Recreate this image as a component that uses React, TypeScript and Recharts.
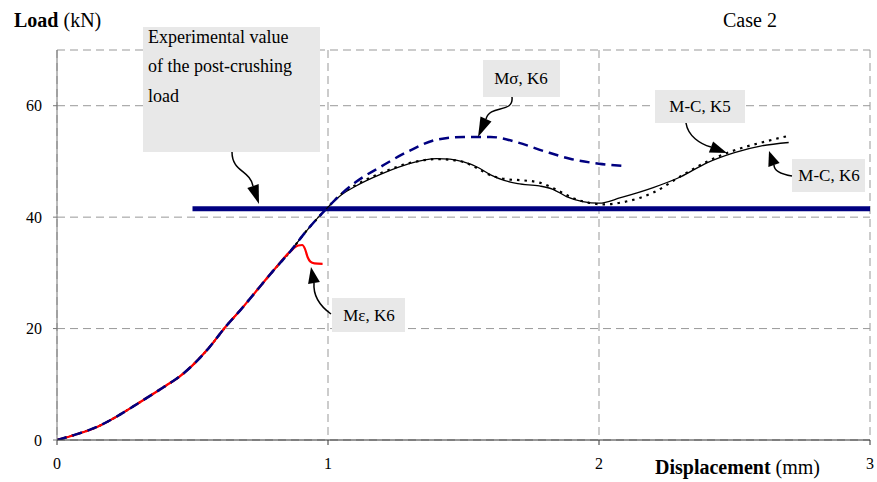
import React from 'react'
import { LineChart, Line, XAxis, YAxis, CartesianGrid } from 'recharts'

const W = 877
const H = 482
const FONT = '"Liberation Serif", "Times New Roman", serif'

const xTicks = [0, 1, 2, 3]
const yTicks = [0, 20, 40, 60]

// rising part, all models sit on top of each other here
const riseDisp = [0, 0.07, 0.15, 0.22, 0.3, 0.4, 0.45, 0.5, 0.56, 0.62, 0.68, 0.74, 0.8, 0.86]
const riseLoad = [0, 1, 2.4, 4.2, 6.6, 9.7, 11.3, 13.4, 16.5, 20.2, 23.5, 27, 30.5, 33.8]

// M-sigma, K6
const sigmaDisp = [0.92, 1.0, 1.05, 1.1, 1.2, 1.3, 1.4, 1.5, 1.6, 1.7, 1.8, 1.9, 2.0, 2.09]
const sigmaLoad = [37.5, 41.8, 44.2, 46.2, 49.2, 51.9, 53.9, 54.4, 54.4, 53.4, 51.8, 50.4, 49.6, 49.2]

// M-epsilon, K6
const epsDisp = [0.89, 0.905, 0.915, 0.925, 0.935, 0.95, 0.98]
const epsLoad = [34.9, 35, 34.3, 32.8, 32, 31.7, 31.6]

// M-C, K6 (solid)
const k6Disp = [0.92, 1.0, 1.05, 1.1, 1.2, 1.3, 1.4, 1.45, 1.5, 1.55, 1.6, 1.65, 1.7, 1.78, 1.83, 1.88, 1.94, 2.0, 2.08, 2.2, 2.3, 2.4, 2.5, 2.6, 2.7]
const k6Load = [37.5, 41.8, 44, 45.5, 47.8, 49.6, 50.5, 50.4, 49.9, 49, 47.6, 46.6, 46, 45.6, 45, 43.7, 42.8, 42.5, 43.5, 45.3, 47.2, 49.8, 51.6, 52.8, 53.4]

// M-C, K5 (dotted)
const k5Disp = [0.92, 1.0, 1.05, 1.1, 1.2, 1.3, 1.4, 1.45, 1.5, 1.55, 1.6, 1.66, 1.72, 1.78, 1.84, 1.9, 1.96, 2.02, 2.1, 2.2, 2.3, 2.4, 2.5, 2.6, 2.7]
const k5Load = [37.5, 41.8, 44.2, 45.7, 48, 49.7, 50.4, 50.3, 49.9, 48.8, 47.5, 46.8, 46.6, 46.2, 45, 43.5, 42.6, 42.3, 42.8, 44.4, 47.3, 50, 52, 53.4, 54.6]

// experimental post-crushing load
const expDisp = [0.5, 3]
const expLoad = [41.5, 41.5]

const toPoints = (xs: number[], ys: number[]) => xs.map((x, i) => ({ x, y: ys[i] }))

const sigmaData = toPoints([...riseDisp, ...sigmaDisp], [...riseLoad, ...sigmaLoad])
const epsData = toPoints([...riseDisp, ...epsDisp], [...riseLoad, ...epsLoad])
const k6Data = toPoints([...riseDisp, ...k6Disp], [...riseLoad, ...k6Load])
const k5Data = toPoints([...riseDisp, ...k5Disp], [...riseLoad, ...k5Load])
const expData = toPoints(expDisp, expLoad)

type Pt = [number, number]

const Arrow = ({ d, from, tip }: { d: string; from: Pt; tip: Pt }) => {
  const dx = tip[0] - from[0]
  const dy = tip[1] - from[1]
  const len = Math.hypot(dx, dy) || 1
  const ux = dx / len
  const uy = dy / len
  const hw = 6
  const bx = tip[0] - ux * Math.max(len, 14)
  const by = tip[1] - uy * Math.max(len, 14)
  const pts = [
    `${tip[0]},${tip[1]}`,
    `${bx - uy * hw},${by + ux * hw}`,
    `${bx + uy * hw},${by - ux * hw}`,
  ].join(' ')
  return (
    <g>
      <path d={d} fill="none" stroke="#000" strokeWidth={1.5} />
      <polygon points={pts} fill="#000" />
    </g>
  )
}

const Box = ({ x, y, w, h }: { x: number; y: number; w: number; h: number }) => (
  <rect x={x} y={y} width={w} height={h} fill="#e8e8e8" />
)

const tickStyle = { fill: '#000', fontSize: 16, fontFamily: FONT, style: { fontFamily: FONT } }

export default function App() {
  return (
    <div style={{ position: 'absolute', left: 0, top: 0, width: W, height: H, background: '#fff', fontFamily: FONT }}>
      <LineChart width={W} height={H} margin={{ top: 50, right: 7, bottom: 0, left: 0 }}>
        <CartesianGrid stroke="#999" strokeDasharray="8 5" />
        <XAxis
          type="number"
          dataKey="x"
          domain={[0, 3]}
          ticks={xTicks}
          allowDataOverflow
          height={42}
          tickSize={5}
          tickMargin={13}
          stroke="#333"
          tick={tickStyle}
        />
        <YAxis
          type="number"
          dataKey="y"
          domain={[0, 70]}
          ticks={yTicks}
          allowDataOverflow
          width={57}
          tickSize={4}
          tickMargin={11}
          stroke="#777"
          tick={tickStyle}
        />
        <Line data={expData} dataKey="y" type="linear" stroke="#000080" strokeWidth={5} dot={false} isAnimationActive={false} />
        <Line data={k6Data} dataKey="y" type="monotone" stroke="#000" strokeWidth={1.3} dot={false} isAnimationActive={false} />
        <Line data={k5Data} dataKey="y" type="monotone" stroke="#000" strokeWidth={2.2} strokeDasharray="2.5 5" dot={false} isAnimationActive={false} />
        <Line data={epsData} dataKey="y" type="monotone" stroke="#ff0000" strokeWidth={2.2} dot={false} isAnimationActive={false} />
        <Line data={sigmaData} dataKey="y" type="monotone" stroke="#000080" strokeWidth={2.5} strokeDasharray="10 6" dot={false} isAnimationActive={false} />
      </LineChart>

      <svg width={W} height={H} style={{ position: 'absolute', left: 0, top: 0, pointerEvents: 'none', fontFamily: FONT }}>
        <text x={14} y={27} fontSize={20}>
          <tspan fontWeight="bold">Load</tspan> (kN)
        </text>
        <text x={723} y={27} fontSize={20}>Case 2</text>
        <text x={655} y={474} fontSize={20}>
          <tspan fontWeight="bold">Displacement</tspan> (mm)
        </text>

        <Box x={143} y={27} w={177} h={125} />
        <text x={148} y={43} fontSize={18}>Experimental value</text>
        <text x={148} y={72} fontSize={18}>of the post-crushing</text>
        <text x={148} y={102} fontSize={18}>load</text>
        <Arrow d="M232,152 C232,172 250,170 253,186" from={[253, 186]} tip={[259, 204]} />

        <Box x={483} y={60} w={77} h={37} />
        <text x={521} y={84} fontSize={17} textAnchor="middle">Mσ, K6</text>
        <Arrow d="M512,97 C514,114 490,104 486,119" from={[486, 119]} tip={[478, 137]} />

        <Box x={655} y={90} w={90} h={33} />
        <text x={700} y={112} fontSize={17} textAnchor="middle">M-C, K5</text>
        <Arrow d="M686,123 C688,136 700,144 711,147" from={[711, 147]} tip={[727, 153]} />

        <Box x={792} y={159} w={73} h={33} />
        <text x={829} y={181} fontSize={17} textAnchor="middle">M-C, K6</text>
        <Arrow d="M792,176 C780,174 774,170 774,165" from={[774, 165]} tip={[769, 151]} />

        <Box x={332} y={298} w={73} h={34} />
        <text x={369} y={321} fontSize={17} textAnchor="middle">Mε, K6</text>
        <Arrow d="M331,314 C320,306 313,296 314,283" from={[314, 283]} tip={[311, 267]} />
      </svg>
    </div>
  )
}
